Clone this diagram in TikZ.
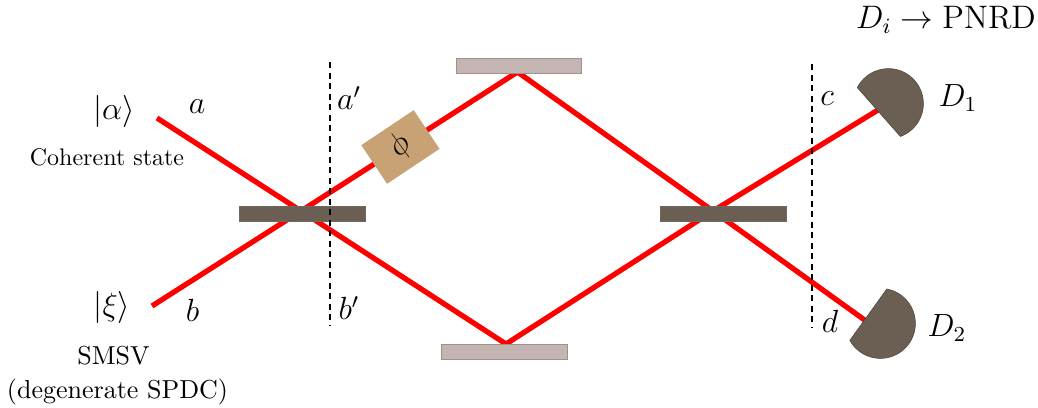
\documentclass[tikz,border=0pt]{standalone}
\usepackage{amsmath}
\usepackage{graphicx}
\definecolor{bsgrey}{HTML}{6B5E53}
\definecolor{mirror}{HTML}{C4B5B3}
\definecolor{phase}{HTML}{C8A274}
\newcommand{\lbltext}[1]{\scalebox{1.07}{#1}}
\newcommand{\bigtext}[1]{\scalebox{1.085}{#1}}
\tikzset{
  px/.style={x=0.4pt,y=-0.4pt},
  beam/.style={draw=red,line width=2.1pt,line join=miter},
  plate/.style={draw=bsgrey!70!gray,line width=0.15pt,fill=bsgrey,minimum width=50.4pt,minimum height=5.9pt,inner sep=0pt,outer sep=0pt},
  mirrorbox/.style={fill=mirror,draw=mirror!80!black,line width=0.1pt,minimum width=50.2pt,minimum height=5.9pt,inner sep=0pt,outer sep=0pt},
  phasebox/.style={fill=phase,minimum width=25.2pt,minimum height=18.6pt,inner sep=0pt,rotate=33.7},
  guide/.style={draw=black,line width=0.6pt,dash pattern=on 2.4pt off 1.8pt},
  detector/.style={fill=bsgrey,draw=bsgrey!70!black,line width=0.2pt},
  lab/.style={font=\fontsize{12}{15}\selectfont,inner sep=0pt},
  small/.style={font=\fontsize{9.6}{12}\selectfont,inner sep=0pt},
  smallb/.style={font=\fontsize{10.4}{12}\selectfont,inner sep=0pt}
}
\begin{document}
\begin{tikzpicture}[px]
\useasboundingbox (0,0) rectangle (1038,407);
% beam coordinates
\coordinate (ain) at (157,118);
\coordinate (bin) at (152,306);
\coordinate (bsl) at (301,211);
\coordinate (bsr) at (713,211);
\coordinate (mt) at (517.5,72);
\coordinate (mb) at (506,344);
\coordinate (cout) at (878,110);
\coordinate (dout) at (866,321);
% beams
\draw[beam] (ain) -- (bsl) -- (mb) -- (bsr) -- (dout);
\draw[beam] (bin) -- (bsl) -- (mt) -- (bsr) -- (cout);
% optics
\node[plate] (bs1) at (302,213.4) {};
\node[plate] (bs2) at (723.3,213.4) {};
\node[mirrorbox] (m1) at (518.7,65.8) {};
\node[mirrorbox] (m2) at (504,351.5) {};
\node[phasebox] (ph) at (400.4,147) {};
\node[lab,rotate=50] (phi) at (400,146) {\lbltext{$\phi$}};
% detectors
\draw[detector] (888.4,103.6) ++(-152.8:35) arc[start angle=-152.8,end angle=70,radius=35] -- cycle;
\draw[detector] (880.4,323.4) ++(-79.5:35) arc[start angle=-79.5,end angle=151,radius=35] -- cycle;
% guides
\coordinate (g1t) at (330,62);
\coordinate (g1b) at (330,325);
\coordinate (g2t) at (812,64);
\coordinate (g2b) at (812,327);
\draw[guide] (g1t) -- (g1b);
\draw[guide] (g2t) -- (g2b);
% labels
\node[lab] (la) at (114,111) {\lbltext{$|\alpha\rangle$}};
\node[lab] (lx) at (112,307) {\lbltext{$|\xi\rangle$}};
\node[lab] (a) at (197,107) {\lbltext{$a$}};
\node[lab] (b) at (192.5,310) {\lbltext{$b$}};
\node[lab] (ap) at (349,98) {\lbltext{$a'$}};
\node[lab] (bp) at (349,308) {\lbltext{$b'$}};
\node[lab] (c) at (827,99) {\lbltext{$c$}};
\node[lab] (d) at (830,321) {\lbltext{$d$}};
\node[lab] (d1) at (958,98) {\lbltext{$D_1$}};
\node[lab] (d2) at (947,328) {\lbltext{$D_2$}};
\node[lab] (pnrd) at (946,20) {\bigtext{$D_i\rightarrow\mathrm{PNRD}$}};
\node[small] (coh) at (107,157) {Coherent state};
\node[smallb] (smsv) at (113.5,356) {SMSV};
\node[smallb] (spdc) at (117.5,392) {(degenerate SPDC)};
\end{tikzpicture}
\end{document}
